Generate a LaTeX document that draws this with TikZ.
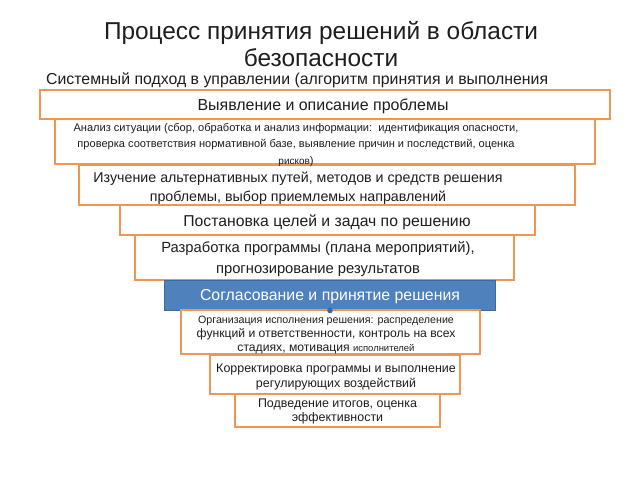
\documentclass[tikz,border=0pt]{standalone}
\usepackage{fontspec}
\setmainfont{Liberation Sans}
\definecolor{boxorange}{RGB}{240,150,80}
\definecolor{boxblue}{RGB}{79,129,189}
\definecolor{boxblueedge}{RGB}{60,105,160}
\definecolor{txt}{RGB}{30,30,30}
\tikzset{
  stepbox/.style={draw=boxorange, line width=2bp, fill=white, inner sep=0pt},
  bluebox/.style={draw=boxblueedge, line width=1bp, fill=boxblue, inner sep=0pt},
  plain/.style={inner sep=0pt, text=txt, align=center}
}
\begin{document}
\begin{tikzpicture}[x=1bp,y=-1bp]
\useasboundingbox (0,0) rectangle (640,480);
\fill[white] (0,0) rectangle (640,480);
% title
\node[plain, font=\fontsize{24.5}{27}\selectfont] (title) at (321,44) {Процесс принятия решений в области\\безопасности};
\node[plain, anchor=west, font=\fontsize{15.9}{17}\selectfont] (sub) at (46,80) {Системный подход в управлении (алгоритм принятия и выполнения};
% boxes
\node[stepbox, minimum width=570bp, minimum height=29bp] (b1) at (325,105) {};
\node[stepbox, minimum width=540bp, minimum height=45bp] (b2) at (325,141.5) {};
\node[stepbox, minimum width=495bp, minimum height=40bp] (b3) at (327,185) {};
\node[stepbox, minimum width=415bp, minimum height=30bp] (b4) at (327.5,220) {};
\node[stepbox, minimum width=379bp, minimum height=45bp] (b5) at (324.5,257.5) {};
\node[bluebox, minimum width=331bp, minimum height=30bp] (b6) at (329.5,295) {};
\node[stepbox, minimum width=299bp, minimum height=44bp] (b7) at (330,332) {};
\node[stepbox, minimum width=250bp, minimum height=39bp] (b8) at (335,374.5) {};
\node[stepbox, minimum width=205bp, minimum height=33bp] (b9) at (337.5,410) {};
\fill[boxblueedge] (b7.north) ++(0,1.5) circle (2.8bp);
% texts
\node[plain, font=\fontsize{16}{17}\selectfont] (t1) at (323,106.5) {Выявление и описание проблемы};
\node[plain, font=\fontsize{11.1}{16.5}\selectfont] (t2) at (296,145) {Анализ ситуации (сбор, обработка и анализ информации:\ \ идентификация опасности,\\проверка соответствия нормативной базе, выявление причин и последствий, оценка\\{\fontsize{10}{16.5}\selectfont рисков})};
\node[plain, font=\fontsize{14.3}{19}\selectfont] (t3) at (298,188) {Изучение альтернативных путей, методов и средств решения\\проблемы, выбор приемлемых направлений};
\node[plain, font=\fontsize{15.8}{17}\selectfont] (t4) at (327,222) {Постановка целей и задач по решению};
\node[plain, font=\fontsize{14.8}{21}\selectfont] (t5) at (318,259.5) {Разработка программы (плана мероприятий),\\прогнозирование результатов};
\node[plain, text=white, font=\fontsize{15.9}{17}\selectfont] (t6) at (330,297) {Согласование и принятие решения};
\node[plain, font=\fontsize{12.2}{14.5}\selectfont] (t7) at (326,335) {{\fontsize{10.7}{14.5}\selectfont Организация исполнения решения: распределение}\\функций и ответственности, контроль на всех\\стадиях, мотивация {\fontsize{9.5}{14.5}\selectfont исполнителей}};
\node[plain, font=\fontsize{12.5}{14.5}\selectfont] (t8) at (336,377) {Корректировка программы и выполнение\\регулирующих воздействий};
\node[plain, font=\fontsize{12.5}{15}\selectfont] (t9) at (337.5,411.5) {Подведение итогов, оценка\\эффективности};
\end{tikzpicture}
\end{document}
